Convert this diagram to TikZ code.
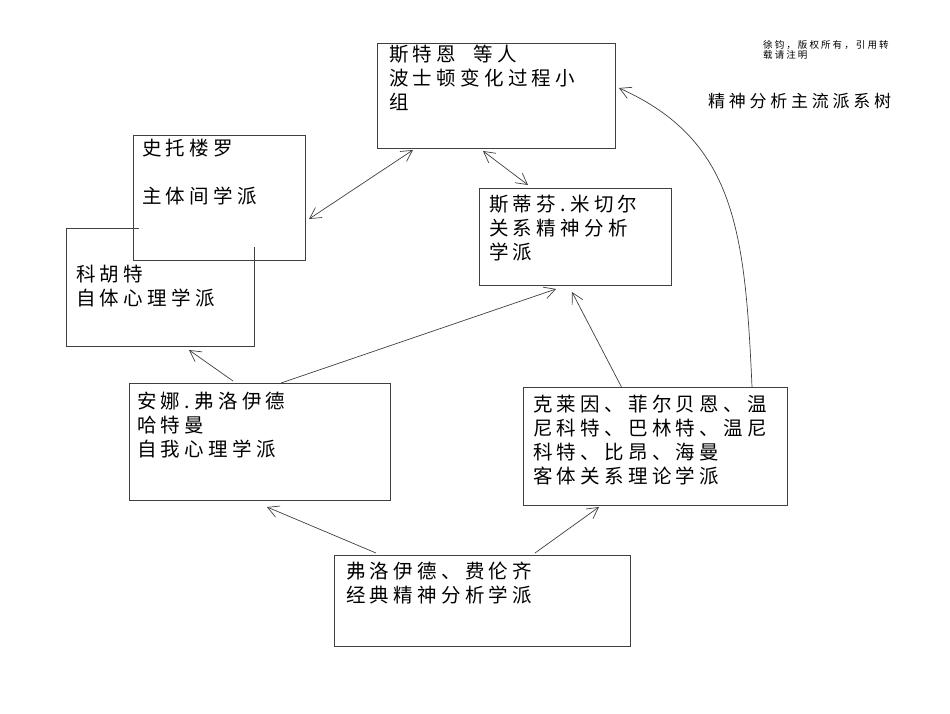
\documentclass[tikz,border=0pt]{standalone}
\usepackage{fontspec}
\setmainfont[LetterSpace=22]{Noto Sans CJK SC}
\usetikzlibrary{arrows.meta}
\begin{document}
\begin{tikzpicture}[x=1pt,y=-1pt,
  box/.style={draw=black!75,line width=0.9pt},
  txt/.style={anchor=north west,align=left,inner sep=0pt,font=\fontsize{19.5}{24}\selectfont},
  arr/.style={draw=black!75,line width=0.7pt,-{Straight Barb[length=11pt,width=12pt]}},
  barr/.style={draw=black!75,line width=0.7pt,{Straight Barb[length=11pt,width=12pt]}-{Straight Barb[length=11pt,width=12pt]}}]
\useasboundingbox[fill=white] (0,0) rectangle (950,713);
% boxes
\draw[box] (377,43) rectangle (615,148);
\draw[box] (133,135) rectangle (305,260);
\draw[box] (139,228) -- (66,228) -- (66,346) -- (254,346) -- (254,247);
\draw[box] (479,188) rectangle (671,285);
\draw[box] (129,383) rectangle (390,500);
\draw[box] (523,387) rectangle (787,505);
\draw[box] (334,555) rectangle (630,646);
% texts
\node[txt] (a) at (389,45) {斯特恩\ \ 等人\\波士顿变化过程小\\组};
\node[txt] (b) at (142,139) {史托楼罗\\\\主体间学派};
\node[txt] (c) at (76,265) {科胡特\\自体心理学派};
\node[txt] (d) at (489,195) {斯蒂芬.米切尔\\关系精神分析\\学派};
\node[txt] (e) at (137,392) {安娜.弗洛伊德\\哈特曼\\自我心理学派};
\node[txt] (f) at (533,395) {克莱因、菲尔贝恩、温\\尼科特、巴林特、温尼\\科特、比昂、海曼\\客体关系理论学派};
\node[txt] (g) at (346,562) {弗洛伊德、费伦齐\\经典精神分析学派};
\node[anchor=west,inner sep=0pt,font=\fontsize{17}{20}\selectfont] (t) at (708,101) {精神分析主流派系树};
\node[anchor=north west,align=left,inner sep=0pt,font=\fontsize{9.5}{10.5}\selectfont] (n) at (763,40) {徐钧，版权所有，引用转\\载请注明};
% connectors
\coordinate (a1) at (413,150); \coordinate (b1) at (309,219);
\coordinate (a2) at (483,151); \coordinate (d1) at (528,185);
\coordinate (e1) at (233,381); \coordinate (c1) at (189,350);
\coordinate (e2) at (281,383); \coordinate (d2) at (556,289);
\coordinate (f1) at (622,388); \coordinate (d3) at (572,292);
\coordinate (f2) at (752,387); \coordinate (a3) at (619,88);
\coordinate (g1) at (376,553); \coordinate (e3) at (267,507);
\coordinate (g2) at (535,553); \coordinate (f3) at (599,507);
\draw[barr] (a1) -- (b1);
\draw[barr] (a2) -- (d1);
\draw[arr] (e1) -- (c1);
\draw[arr] (e2) -- (d2);
\draw[arr] (f1) -- (d3);
\draw[arr] (f2) .. controls (745,230) and (735,140) .. (a3);
\draw[arr] (g1) -- (e3);
\draw[arr] (g2) -- (f3);
\end{tikzpicture}
\end{document}
